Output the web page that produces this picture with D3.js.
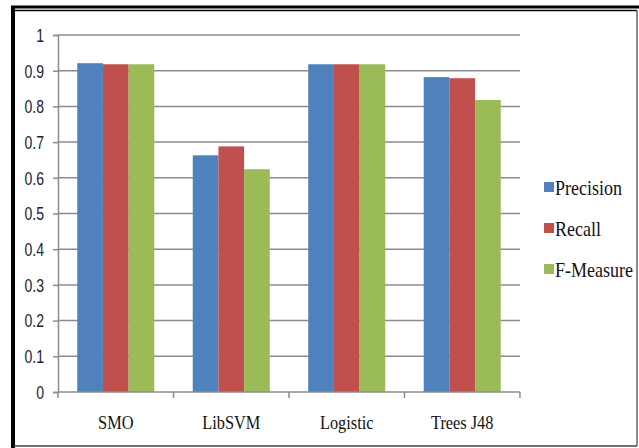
<!DOCTYPE html>
<html>
<head>
<meta charset="utf-8">
<script src="https://cdn.jsdelivr.net/npm/d3@7"></script>
<style>
  body { margin: 0; background: #fff; }
  svg { display: block; }
  .tick-label { font-family: "Liberation Sans", Arial, sans-serif; font-size: 18px; fill: #1c2233; }
  .cat-label, .legend-label { font-family: "Liberation Serif", "Times New Roman", serif; font-size: 19px; fill: #111; }
  .legend-label { font-size: 20px; }
</style>
</head>
<body>
<div id="chart"></div>
<script>
// chart data
const categories = ["SMO", "LibSVM", "Logistic", "Trees J48"];
const seriesNames = ["Precision", "Recall", "F-Measure"];
const precision = [0.921, 0.663, 0.918, 0.882];
const recall = [0.918, 0.688, 0.918, 0.879];
const fMeasure = [0.918, 0.624, 0.918, 0.818];
const yTicks = [0, 0.1, 0.2, 0.3, 0.4, 0.5, 0.6, 0.7, 0.8, 0.9, 1];

const seriesValues = [precision, recall, fMeasure];
const colors = ["#4F81BD", "#C0504D", "#9BBB59"];

const W = 639, H = 448;
const margin = { top: 35, left: 58, right: 119, bottom: 56 };
const width = W - margin.left - margin.right;
const height = H - margin.top - margin.bottom;

const svg = d3.select("#chart").append("svg")
    .attr("width", W)
    .attr("height", H);

// frame around the picture
svg.append("line").attr("x1", 11).attr("x2", W).attr("y1", 7).attr("y2", 7)
    .attr("stroke", "#000").attr("stroke-width", 3);
svg.append("line").attr("x1", 14).attr("x2", 637).attr("y1", 10.5).attr("y2", 10.5)
    .attr("stroke", "#000").attr("stroke-width", 1.5);
svg.append("line").attr("x1", 13).attr("x2", 13).attr("y1", 6).attr("y2", H)
    .attr("stroke", "#000").attr("stroke-width", 4);
svg.append("line").attr("x1", 637).attr("x2", 637).attr("y1", 10).attr("y2", 446)
    .attr("stroke", "#666").attr("stroke-width", 1.5);
svg.append("line").attr("x1", 14).attr("x2", 637).attr("y1", 446).attr("y2", 446)
    .attr("stroke", "#444").attr("stroke-width", 1.5);

const g = svg.append("g")
    .attr("transform", `translate(${margin.left},${margin.top})`);

// scales
const x0 = d3.scaleBand()
    .domain(categories)
    .range([0, width])
    .paddingInner(0.333)
    .paddingOuter(0.1667);

const x1 = d3.scaleBand()
    .domain(seriesNames)
    .range([0, x0.bandwidth()]);

const y = d3.scaleLinear()
    .domain([0, 1])
    .range([height, 0]);

// gridlines
g.selectAll(".grid")
    .data(yTicks.slice(1))
    .enter().append("line")
    .attr("class", "grid")
    .attr("x1", 0).attr("x2", width)
    .attr("y1", d => y(d)).attr("y2", d => y(d))
    .attr("stroke", "#8c8c8c")
    .attr("stroke-width", 1.5);

// bars
const groups = g.selectAll(".group")
    .data(categories)
    .enter().append("g")
    .attr("class", "group")
    .attr("transform", d => `translate(${x0(d)},0)`);

groups.selectAll("rect")
    .data((d, i) => seriesNames.map((s, j) => ({ s: s, v: seriesValues[j][i], c: colors[j] })))
    .enter().append("rect")
    .attr("x", d => x1(d.s))
    .attr("y", d => y(d.v))
    .attr("width", x1.bandwidth())
    .attr("height", d => height - y(d.v))
    .attr("fill", d => d.c);

// y axis
const yAxis = d3.axisLeft(y).tickValues(yTicks).tickSize(5).tickFormat(d3.format("~g"));
const ya = g.append("g").call(yAxis);
ya.select(".domain").attr("stroke", "#8c8c8c").attr("stroke-width", 1.5);
ya.selectAll(".tick line").attr("stroke", "#8c8c8c").attr("stroke-width", 1.5);
// narrow, tall digits like the original
ya.selectAll(".tick text")
    .attr("class", "tick-label")
    .attr("x", null)
    .attr("dy", "0.35em")
    .attr("transform", "translate(-14,0) scale(0.78,1)");

// x axis with ticks between categories
const step = x0.step();
const xa = g.append("g").attr("transform", `translate(0,${height})`);
xa.append("line").attr("x1", 0).attr("x2", width)
    .attr("stroke", "#8c8c8c").attr("stroke-width", 1.5);
xa.selectAll(".xtick")
    .data(d3.range(categories.length + 1))
    .enter().append("line")
    .attr("x1", d => d * step).attr("x2", d => d * step)
    .attr("y1", 0).attr("y2", 6)
    .attr("stroke", "#8c8c8c").attr("stroke-width", 1.5);
xa.selectAll(".cat-label")
    .data(categories)
    .enter().append("text")
    .attr("class", "cat-label")
    .attr("text-anchor", "middle")
    .attr("transform", d => `translate(${x0(d) + x0.bandwidth() / 2},37) scale(0.86,1)`)
    .text(d => d);

// legend
const legend = svg.append("g").attr("transform", "translate(544,188)");
const items = legend.selectAll(".item")
    .data(seriesNames)
    .enter().append("g")
    .attr("transform", (d, i) => `translate(0,${i * 41})`);
items.append("rect")
    .attr("x", 0).attr("y", -6)
    .attr("width", 10).attr("height", 10)
    .attr("fill", (d, i) => colors[i]);
items.append("text")
    .attr("class", "legend-label")
    .attr("dy", "0.35em")
    .attr("transform", "translate(11,0) scale(0.9,1)")
    .text(d => d);
</script>
</body>
</html>
